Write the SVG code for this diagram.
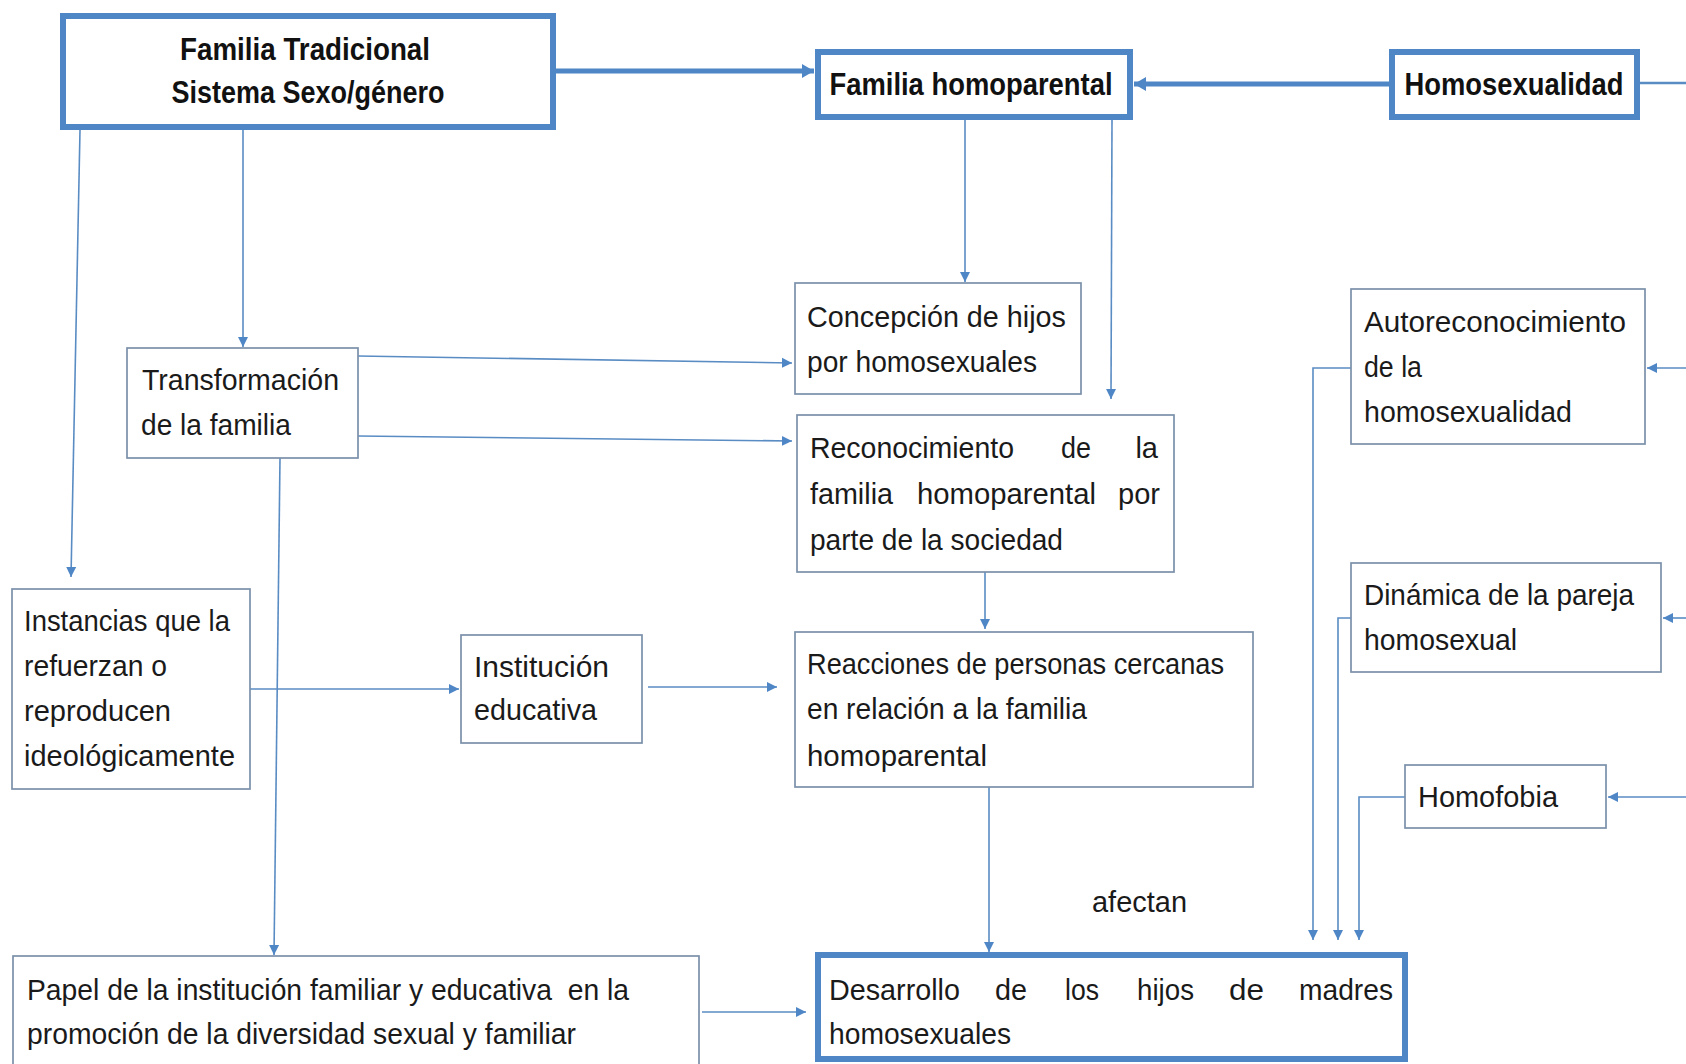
<svg xmlns="http://www.w3.org/2000/svg" width="1686" height="1064" viewBox="0 0 1686 1064">
<style>
.thick{fill:#ffffff;stroke:#4f86c6;stroke-width:6}
.thin{fill:#ffffff;stroke:#7a90aa;stroke-width:1.7}
.t{font-family:"Liberation Sans",Arial,sans-serif;font-size:29px;fill:#1a1a1a}
.b{font-family:"Liberation Sans",Arial,sans-serif;font-size:31px;font-weight:bold;fill:#111111}
.c{fill:none;stroke:#5a8cc4;stroke-width:1.6}
.ck{fill:none;stroke:#4f86c6;stroke-width:5}
</style>
<defs>
<marker id="a" markerUnits="userSpaceOnUse" markerWidth="11" markerHeight="11" refX="10" refY="5.5" orient="auto">
<path d="M0,0.5 L10,5.5 L0,10.5 z" fill="#4f86c6"/>
</marker>
<marker id="ak" markerUnits="userSpaceOnUse" markerWidth="14" markerHeight="16" refX="12" refY="8" orient="auto">
<path d="M0,1 L12,8 L0,15 z" fill="#4f86c6"/>
</marker>
</defs>
<rect width="1686" height="1064" fill="#ffffff"/>

<g id="connectors">
<line class="ck" x1="556" y1="71" x2="814" y2="71" marker-end="url(#ak)"/>
<line class="ck" x1="1389" y1="84" x2="1134" y2="84" marker-end="url(#ak)"/>
<line class="c" x1="1640" y1="83" x2="1686" y2="83" style="stroke-width:2.5"/>
<line class="c" x1="1686" y1="368" x2="1647" y2="368" marker-end="url(#a)"/>
<line class="c" x1="1686" y1="618" x2="1663" y2="618" marker-end="url(#a)"/>
<line class="c" x1="1686" y1="797" x2="1608" y2="797" marker-end="url(#a)"/>
<line class="c" x1="80" y1="130" x2="71" y2="577" marker-end="url(#a)"/>
<line class="c" x1="243" y1="130" x2="243" y2="347" marker-end="url(#a)"/>
<line class="c" x1="965" y1="120" x2="965" y2="282" marker-end="url(#a)"/>
<line class="c" x1="1112" y1="120" x2="1111" y2="399" marker-end="url(#a)"/>
<line class="c" x1="358" y1="356" x2="792" y2="363" marker-end="url(#a)"/>
<line class="c" x1="358" y1="436" x2="792" y2="441" marker-end="url(#a)"/>
<line class="c" x1="280" y1="458" x2="274" y2="955" marker-end="url(#a)"/>
<line class="c" x1="250" y1="689" x2="459" y2="689" marker-end="url(#a)"/>
<line class="c" x1="648" y1="687" x2="777" y2="687" marker-end="url(#a)"/>
<line class="c" x1="702" y1="1012" x2="806" y2="1012" marker-end="url(#a)"/>
<line class="c" x1="985" y1="572" x2="985" y2="629" marker-end="url(#a)"/>
<line class="c" x1="989" y1="787" x2="989" y2="952" marker-end="url(#a)"/>
<polyline class="c" points="1351,368 1313,368 1313,940" marker-end="url(#a)"/>
<polyline class="c" points="1351,618 1338,618 1338,940" marker-end="url(#a)"/>
<polyline class="c" points="1405,797 1359,797 1359,940" marker-end="url(#a)"/>
<text class="t" x="1092" y="912" textLength="95" lengthAdjust="spacingAndGlyphs">afectan</text>
</g>

<g id="familia-tradicional">
<rect class="thick" x="63" y="16" width="490" height="111"/>
<text class="b" x="305" y="60" text-anchor="middle" textLength="250" lengthAdjust="spacingAndGlyphs">Familia Tradicional</text>
<text class="b" x="308" y="103" text-anchor="middle" textLength="273" lengthAdjust="spacingAndGlyphs">Sistema Sexo/género</text>
</g>

<g id="familia-homoparental">
<rect class="thick" x="818" y="52" width="312" height="65"/>
<text class="b" x="971" y="95" text-anchor="middle" textLength="283" lengthAdjust="spacingAndGlyphs">Familia homoparental</text>
</g>

<g id="homosexualidad">
<rect class="thick" x="1392" y="52" width="245" height="65"/>
<text class="b" x="1514" y="95" text-anchor="middle" textLength="219" lengthAdjust="spacingAndGlyphs">Homosexualidad</text>
</g>

<g id="transformacion">
<rect class="thin" x="127" y="348" width="231" height="110"/>
<text class="t" x="142" y="390" textLength="197" lengthAdjust="spacingAndGlyphs">Transformación</text>
<text class="t" x="141" y="435" textLength="150" lengthAdjust="spacingAndGlyphs">de la familia</text>
</g>

<g id="concepcion">
<rect class="thin" x="795" y="283" width="286" height="111"/>
<text class="t" x="807" y="327" textLength="259" lengthAdjust="spacingAndGlyphs">Concepción de hijos</text>
<text class="t" x="807" y="372" textLength="230" lengthAdjust="spacingAndGlyphs">por homosexuales</text>
</g>

<g id="reconocimiento">
<rect class="thin" x="797" y="415" width="377" height="157"/>
<text class="t" x="810" y="458" textLength="204" lengthAdjust="spacingAndGlyphs">Reconocimiento</text>
<text class="t" x="1061" y="458" textLength="30" lengthAdjust="spacingAndGlyphs">de</text>
<text class="t" x="1158" y="458" text-anchor="end">la</text>
<text class="t" x="810" y="504" textLength="83" lengthAdjust="spacingAndGlyphs">familia</text>
<text class="t" x="917" y="504" textLength="179" lengthAdjust="spacingAndGlyphs">homoparental</text>
<text class="t" x="1118" y="504" textLength="42" lengthAdjust="spacingAndGlyphs">por</text>
<text class="t" x="810" y="550" textLength="253" lengthAdjust="spacingAndGlyphs">parte de la sociedad</text>
</g>

<g id="instancias">
<rect class="thin" x="12" y="589" width="238" height="200"/>
<text class="t" x="24" y="631" textLength="206" lengthAdjust="spacingAndGlyphs">Instancias que la</text>
<text class="t" x="24" y="676" textLength="143" lengthAdjust="spacingAndGlyphs">refuerzan o</text>
<text class="t" x="24" y="721" textLength="147" lengthAdjust="spacingAndGlyphs">reproducen</text>
<text class="t" x="24" y="766" textLength="211" lengthAdjust="spacingAndGlyphs">ideológicamente</text>
</g>

<g id="institucion">
<rect class="thin" x="461" y="635" width="181" height="108"/>
<text class="t" x="474" y="677" textLength="135" lengthAdjust="spacingAndGlyphs">Institución</text>
<text class="t" x="474" y="720" textLength="123" lengthAdjust="spacingAndGlyphs">educativa</text>
</g>

<g id="reacciones">
<rect class="thin" x="795" y="632" width="458" height="155"/>
<text class="t" x="807" y="674" textLength="417" lengthAdjust="spacingAndGlyphs">Reacciones de personas cercanas</text>
<text class="t" x="807" y="719" textLength="280" lengthAdjust="spacingAndGlyphs">en relación a la familia</text>
<text class="t" x="807" y="766" textLength="180" lengthAdjust="spacingAndGlyphs">homoparental</text>
</g>

<g id="papel">
<rect class="thin" x="13" y="956" width="686" height="120"/>
<text class="t" x="27" y="1000" xml:space="preserve" textLength="602" lengthAdjust="spacingAndGlyphs">Papel de la institución familiar y educativa  en la</text>
<text class="t" x="27" y="1044" textLength="549" lengthAdjust="spacingAndGlyphs">promoción de la diversidad sexual y familiar</text>
</g>

<g id="desarrollo">
<rect class="thick" x="818" y="955" width="587" height="104"/>
<text class="t" x="829" y="1000" textLength="131" lengthAdjust="spacingAndGlyphs">Desarrollo</text>
<text class="t" x="995" y="1000" textLength="32" lengthAdjust="spacingAndGlyphs">de</text>
<text class="t" x="1065" y="1000" textLength="34" lengthAdjust="spacingAndGlyphs">los</text>
<text class="t" x="1137" y="1000" textLength="57" lengthAdjust="spacingAndGlyphs">hijos</text>
<text class="t" x="1229" y="1000" textLength="35" lengthAdjust="spacingAndGlyphs">de</text>
<text class="t" x="1299" y="1000" textLength="94" lengthAdjust="spacingAndGlyphs">madres</text>
<text class="t" x="829" y="1044" textLength="182" lengthAdjust="spacingAndGlyphs">homosexuales</text>
</g>

<g id="autoreconocimiento">
<rect class="thin" x="1351" y="289" width="294" height="155"/>
<text class="t" x="1364" y="332" textLength="262" lengthAdjust="spacingAndGlyphs">Autoreconocimiento</text>
<text class="t" x="1364" y="377" textLength="58" lengthAdjust="spacingAndGlyphs">de la</text>
<text class="t" x="1364" y="422" textLength="208" lengthAdjust="spacingAndGlyphs">homosexualidad</text>
</g>

<g id="dinamica">
<rect class="thin" x="1351" y="563" width="310" height="109"/>
<text class="t" x="1364" y="605" textLength="270" lengthAdjust="spacingAndGlyphs">Dinámica de la pareja</text>
<text class="t" x="1364" y="650" textLength="153" lengthAdjust="spacingAndGlyphs">homosexual</text>
</g>

<g id="homofobia">
<rect class="thin" x="1405" y="765" width="201" height="63"/>
<text class="t" x="1418" y="807" textLength="140" lengthAdjust="spacingAndGlyphs">Homofobia</text>
</g>
</svg>
